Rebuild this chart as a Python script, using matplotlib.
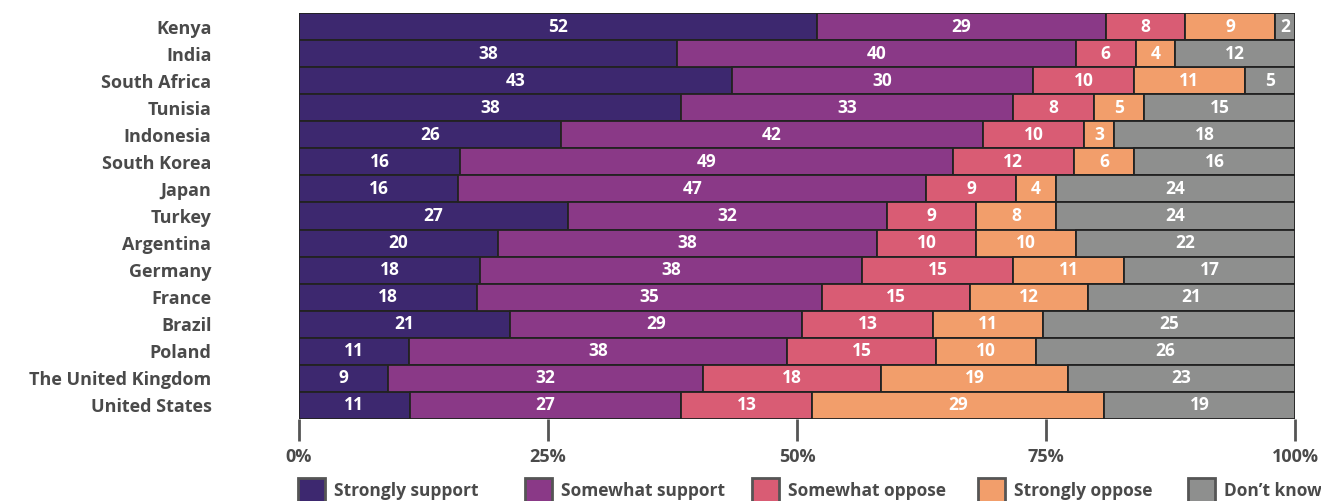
import matplotlib.pyplot as plt
from matplotlib.patches import Rectangle
import numpy as np

countries = ['Kenya', 'India', 'South Africa', 'Tunisia', 'Indonesia', 'South Korea', 'Japan',
             'Turkey', 'Argentina', 'Germany', 'France', 'Brazil', 'Poland',
             'The United Kingdom', 'United States']
strongly_support = [52, 38, 43, 38, 26, 16, 16, 27, 20, 18, 18, 21, 11, 9, 11]
somewhat_support = [29, 40, 30, 33, 42, 49, 47, 32, 38, 38, 35, 29, 38, 32, 27]
somewhat_oppose = [8, 6, 10, 8, 10, 12, 9, 9, 10, 15, 15, 13, 15, 18, 13]
strongly_oppose = [9, 4, 11, 5, 3, 6, 4, 8, 10, 11, 12, 11, 10, 19, 29]
dont_know = [2, 12, 5, 15, 18, 16, 24, 24, 22, 17, 21, 25, 26, 23, 19]

labels = ['Strongly support', 'Somewhat support', 'Somewhat oppose', 'Strongly oppose', "Don\u2019t know"]
colors = ['#3d286f', '#8a3987', '#d95c74', '#f29e6b', '#8e8f8e']

data = np.array([strongly_support, somewhat_support, somewhat_oppose, strongly_oppose, dont_know], dtype=float)
pct = data / data.sum(axis=0) * 100

plt.rcParams['font.family'] = ['Open Sans', 'DejaVu Sans']
fig = plt.figure(figsize=(13.21, 5.01), dpi=100)
ax = fig.add_axes([299/1321, 1-419/501, 996/1321, 406/501])

y = np.arange(len(countries))
left = np.zeros(len(countries))
for i in range(5):
    ax.barh(y, pct[i], left=left, height=1.0, color=colors[i], edgecolor='#222222', linewidth=1.3)
    for j in range(len(countries)):
        ax.text(left[j] + pct[i][j]/2, y[j], '%d' % data[i][j], ha='center', va='center',
                color='white', fontsize=12.5, fontweight='bold')
    left = left + pct[i]

ax.set_xlim(0, 100)
ax.set_ylim(len(countries) - 0.5, -0.5)
ax.set_yticks(y)
ax.set_yticklabels(countries, fontsize=13, fontweight='bold', color='#4a4a4a')
ax.tick_params(axis='y', length=0, pad=63)
ax.set_xticks([0, 25, 50, 75, 100])
ax.set_xticklabels(['0%', '25%', '50%', '75%', '100%'], fontsize=13, fontweight='bold', color='#4a4a4a')
ax.tick_params(axis='x', length=16, width=2, color='#555555', pad=5)
for s in ax.spines.values():
    s.set_visible(False)

# legend
leg_x = [298, 525, 752, 978, 1188]
for i in range(5):
    x0 = leg_x[i] / 1321
    fig.patches.append(Rectangle((x0, -0.01), 27/1321, 28/501, transform=fig.transFigure,
                                 facecolor=colors[i], edgecolor='#555555', linewidth=2))
    fig.text(x0 + 36/1321, 1 - 491/501, labels[i], fontsize=12.5, fontweight='bold',
             color='#4a4a4a', va='center', ha='left')

plt.savefig('out.png', dpi=100)
